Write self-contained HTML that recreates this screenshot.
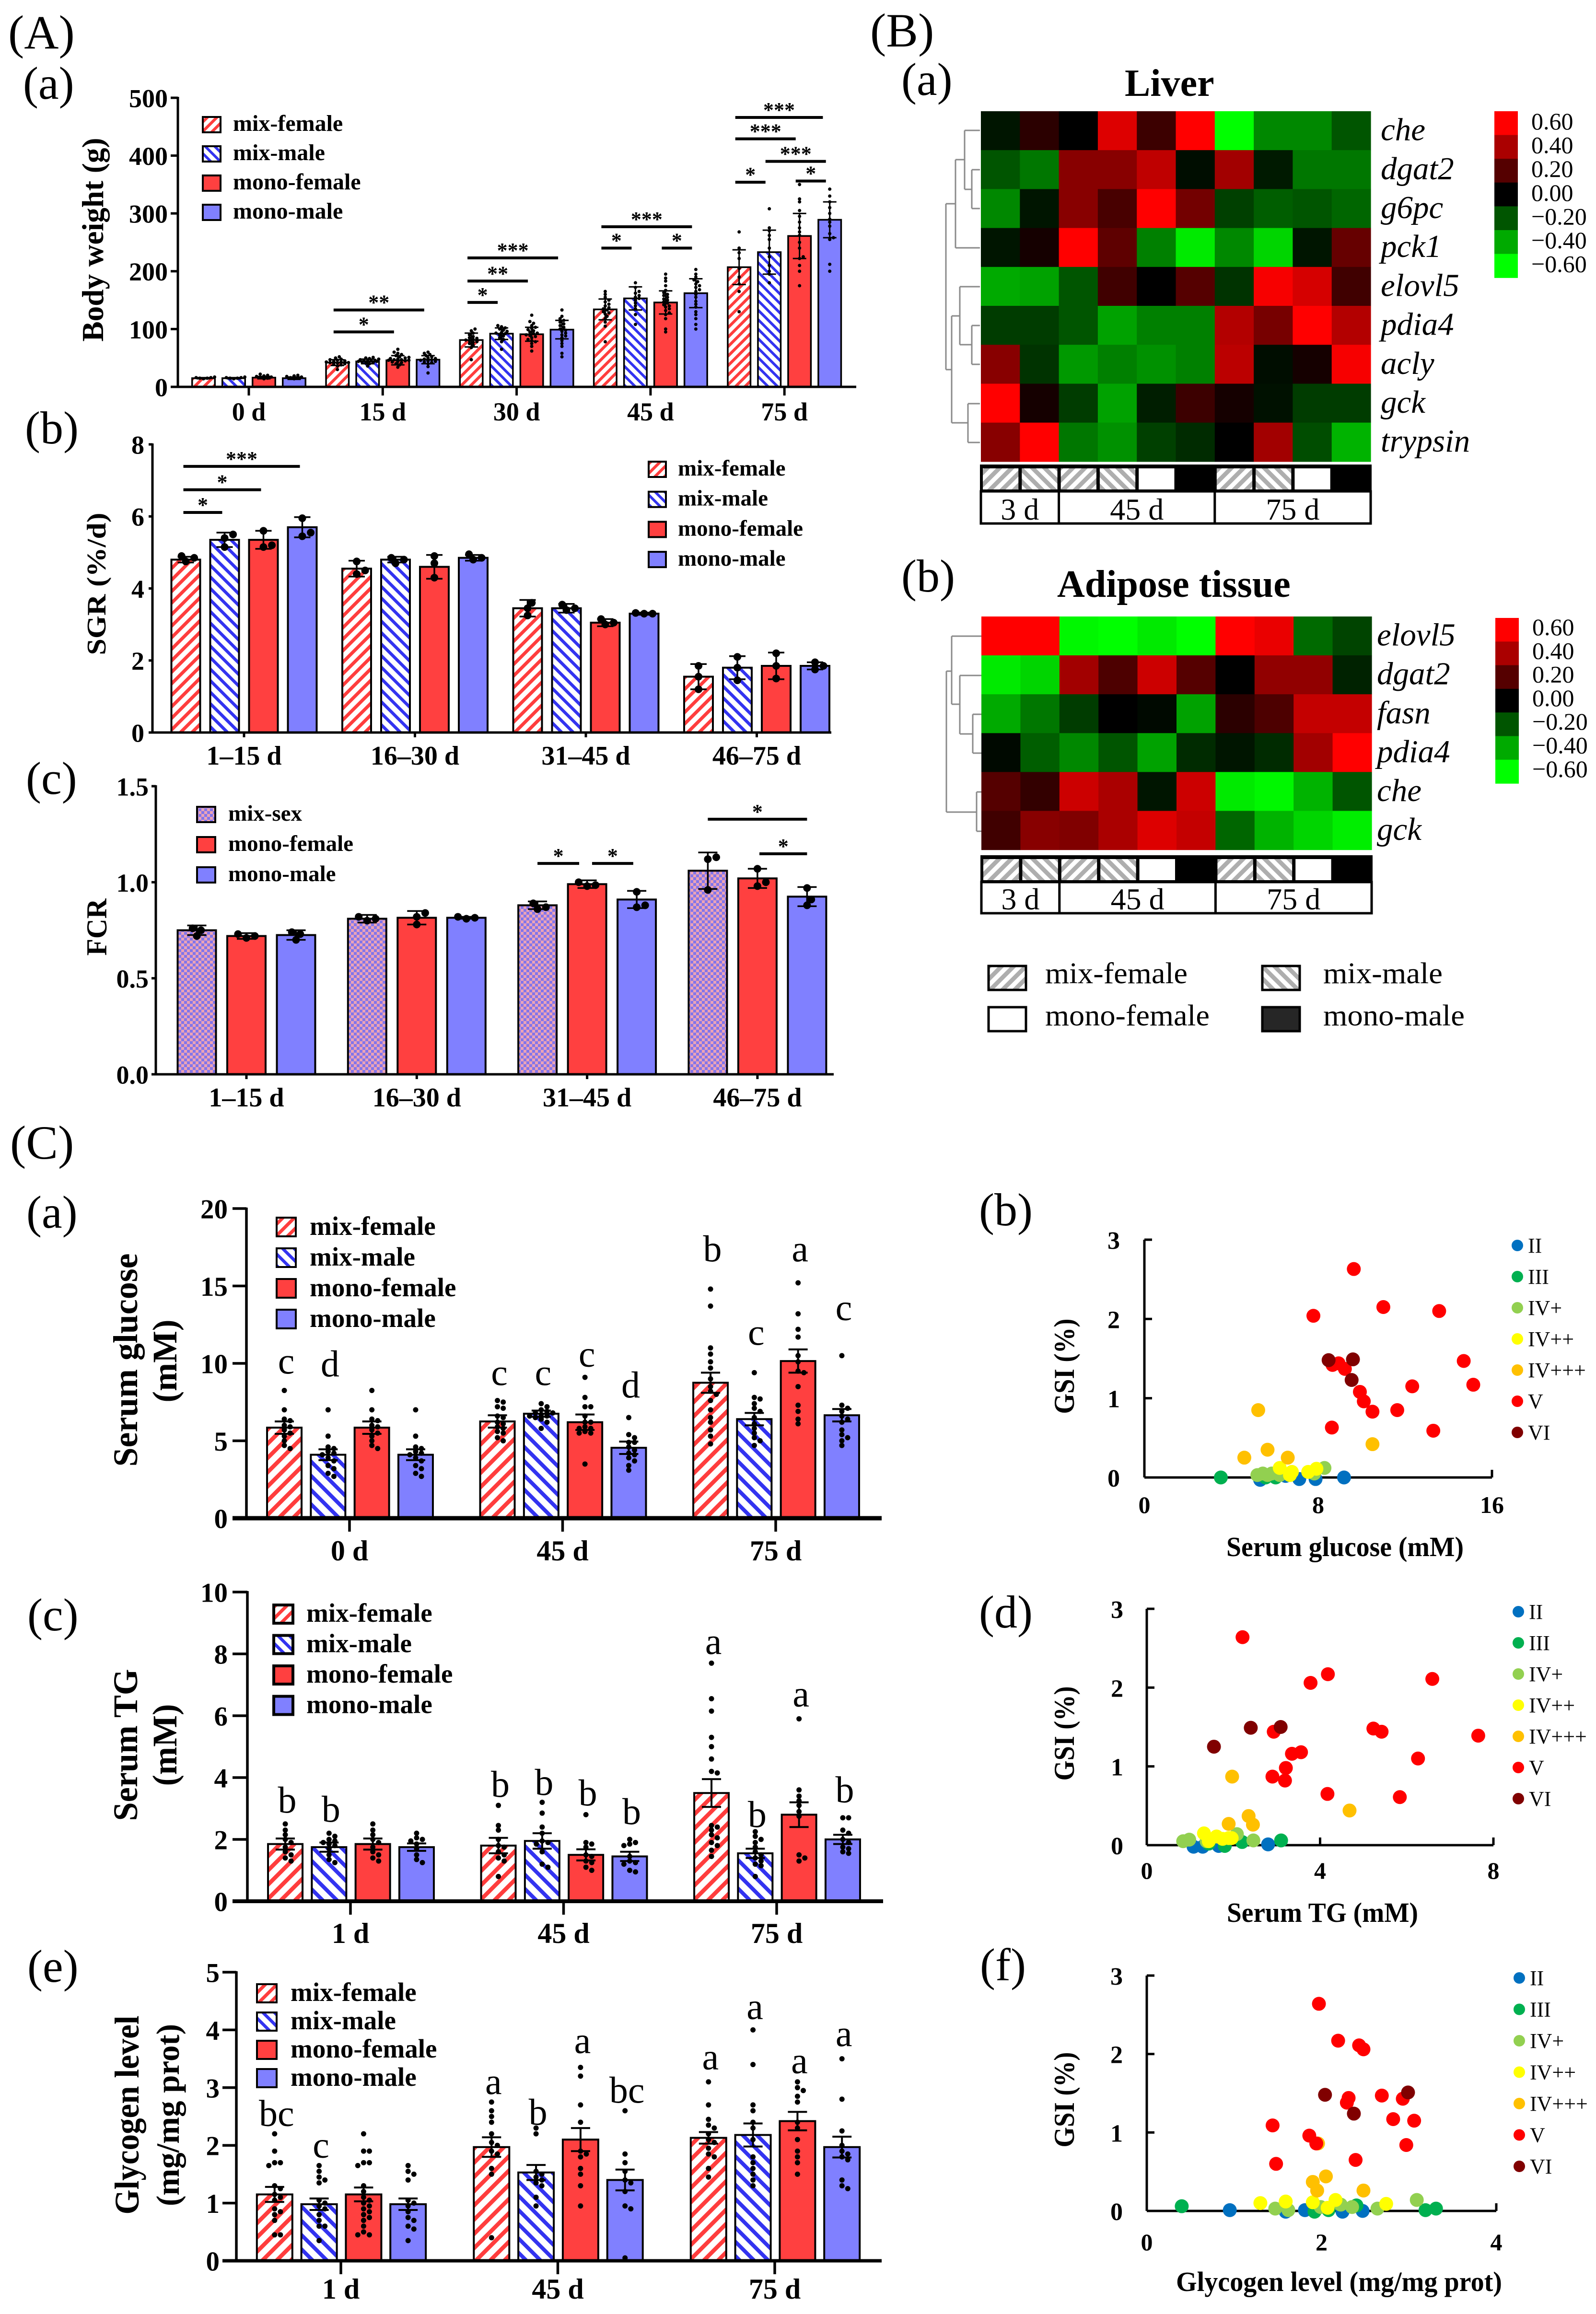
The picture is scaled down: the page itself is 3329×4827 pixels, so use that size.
<!DOCTYPE html>
<html lang="en">
<head>
<meta charset="utf-8">
<title>Growth, gene expression and serum metabolite figure</title>
<style>
html,body{margin:0;padding:0;background:#fff}
svg{display:block;font-family:"Liberation Serif",serif;fill:#000}
</style>
</head>
<body>
<svg id="figure" xmlns="http://www.w3.org/2000/svg" width="3329" height="4827" viewBox="0 0 3329 4827">
<defs>
<pattern id="stripeRed" width="21" height="21" patternUnits="userSpaceOnUse" patternTransform="rotate(45)"><rect width="21" height="21" fill="#fff"/><rect width="8.5" height="21" fill="#ff3d3d"/></pattern>
<pattern id="stripeBlue" width="21" height="21" patternUnits="userSpaceOnUse" patternTransform="rotate(-45)"><rect width="21" height="21" fill="#fff"/><rect width="8" height="21" fill="#3333f0"/></pattern>
<pattern id="stripeRedM" width="17" height="17" patternUnits="userSpaceOnUse" patternTransform="rotate(45)"><rect width="17" height="17" fill="#fff"/><rect width="7" height="17" fill="#ff3d3d"/></pattern>
<pattern id="stripeBlueM" width="17" height="17" patternUnits="userSpaceOnUse" patternTransform="rotate(-45)"><rect width="17" height="17" fill="#fff"/><rect width="6.5" height="17" fill="#3333f0"/></pattern>
<pattern id="stripeRedS" width="14" height="14" patternUnits="userSpaceOnUse" patternTransform="rotate(45)"><rect width="14" height="14" fill="#fff"/><rect width="6" height="14" fill="#ff3d3d"/></pattern>
<pattern id="stripeBlueS" width="14" height="14" patternUnits="userSpaceOnUse" patternTransform="rotate(-45)"><rect width="14" height="14" fill="#fff"/><rect width="5.5" height="14" fill="#3333f0"/></pattern>
<pattern id="checker" width="12" height="12" patternUnits="userSpaceOnUse"><rect width="12" height="12" fill="#eba3b6"/><rect width="6" height="6" fill="#8375ea"/><rect x="6" y="6" width="6" height="6" fill="#8375ea"/></pattern>
<pattern id="hatchF" width="18" height="18" patternUnits="userSpaceOnUse" patternTransform="rotate(45)"><rect width="18" height="18" fill="#fff"/><rect width="9" height="18" fill="#aeaeae"/></pattern>
<pattern id="hatchM" width="18" height="18" patternUnits="userSpaceOnUse" patternTransform="rotate(-45)"><rect width="18" height="18" fill="#fff"/><rect width="9" height="18" fill="#aeaeae"/></pattern>
</defs>
<rect width="3329" height="4827" fill="#fff"/>

<g font-size="100">
<text x="17" y="101">(A)</text>
<text x="48" y="206" font-size="96">(a)</text>
<text x="52" y="925" font-size="96">(b)</text>
<text x="54" y="1656" font-size="96">(c)</text>
<text x="1815" y="97">(B)</text>
<text x="1880" y="198" font-size="96">(a)</text>
<text x="1880" y="1234" font-size="96">(b)</text>
<text x="21" y="2417">(C)</text>
<text x="55" y="2561" font-size="96">(a)</text>
<text x="57" y="3401" font-size="96">(c)</text>
<text x="57" y="4134" font-size="96">(e)</text>
<text x="2042" y="2556" font-size="96">(b)</text>
<text x="2042" y="3395" font-size="96">(d)</text>
<text x="2044" y="4131" font-size="96">(f)</text>
</g>

<g id="chartBW">
<text transform="translate(215,500) rotate(-90)" font-size="64" font-weight="bold" text-anchor="middle" textLength="425" lengthAdjust="spacingAndGlyphs">Body weight  (g)</text>
</g>
<g id="chartSGR">
<text transform="translate(220,1218) rotate(-90)" font-size="56" font-weight="bold" text-anchor="middle" textLength="297" lengthAdjust="spacingAndGlyphs">SGR (%/d)</text>
</g>
<g id="chartFCR">
<text transform="translate(222,1934) rotate(-90)" font-size="60" font-weight="bold" text-anchor="middle" textLength="119" lengthAdjust="spacingAndGlyphs">FCR</text>
</g>
<g id="heatLiver">
<text x="2346" y="200" font-size="80" font-weight="bold">Liver</text>
<path d="M2044 272H2012M2044 354H2027M2044 435H2027M2027 354V435M2027 395H2012M2012 272V395M2012 333H1993M2044 517H1993M1993 333V517M1993 425H1973M2044 598H2002M2044 679H2027M2044 760H2027M2027 679V760M2027 719H2002M2002 598V719M2002 659H1985M2044 842H2019M2044 923H2019M2019 842V923M2019 882H1985M1985 659V882M1985 771H1973M1973 425V771" fill="none" stroke="#8a8a8a" stroke-width="3"/>
</g>
<g id="heatAdipose">
<text x="2205" y="1245" font-size="80" font-weight="bold">Adipose tissue</text>
<path d="M2047 1327H1985M2047 1409H2002M2047 1490H2029M2047 1571H2029M2029 1490V1571M2029 1531H2002M2002 1409V1531M2002 1469H1985M1985 1327V1469M1985 1400H1974M2047 1652H2037M2047 1734H2037M2037 1652V1734M2037 1694H1974M1974 1400V1694" fill="none" stroke="#8a8a8a" stroke-width="3"/>
</g>
<g font-size="62">
<rect x="2062" y="2015" width="78" height="50" fill="url(#hatchF)" stroke="#000" stroke-width="5"/>
<text x="2180" y="2051" textLength="297" lengthAdjust="spacingAndGlyphs">mix-female</text>
<rect x="2633" y="2015" width="78" height="50" fill="url(#hatchM)" stroke="#000" stroke-width="5"/>
<text x="2760" y="2051" textLength="249" lengthAdjust="spacingAndGlyphs">mix-male</text>
<rect x="2062" y="2101" width="78" height="50" fill="#fff" stroke="#000" stroke-width="5"/>
<text x="2180" y="2139" textLength="343" lengthAdjust="spacingAndGlyphs">mono-female</text>
<rect x="2633" y="2101" width="78" height="50" fill="#262626" stroke="#000" stroke-width="5"/>
<text x="2760" y="2139" textLength="295" lengthAdjust="spacingAndGlyphs">mono-male</text>
</g>
<g id="chartGlucose">
<text transform="translate(286,2837) rotate(-90)" font-size="72" font-weight="bold" text-anchor="middle" textLength="445" lengthAdjust="spacingAndGlyphs">Serum  glucose</text>
<text transform="translate(368,2839) rotate(-90)" font-size="72" font-weight="bold" text-anchor="middle" textLength="173" lengthAdjust="spacingAndGlyphs">(mM)</text>
</g>
<g id="chartTG">
<text transform="translate(286,3640) rotate(-90)" font-size="72" font-weight="bold" text-anchor="middle" textLength="317" lengthAdjust="spacingAndGlyphs">Serum  TG</text>
<text transform="translate(368,3640) rotate(-90)" font-size="72" font-weight="bold" text-anchor="middle" textLength="171" lengthAdjust="spacingAndGlyphs">(mM)</text>
</g>
<g id="chartGlycogen">
<text transform="translate(289,4412) rotate(-90)" font-size="72" font-weight="bold" text-anchor="middle" textLength="415" lengthAdjust="spacingAndGlyphs">Glycogen level</text>
<text transform="translate(373,4412) rotate(-90)" font-size="68" font-weight="bold" text-anchor="middle" textLength="380" lengthAdjust="spacingAndGlyphs">(mg/mg prot)</text>
</g>
<g id="scatterGlucose">
<text transform="translate(2240,2850) rotate(-90)" font-size="60" font-weight="bold" text-anchor="middle" textLength="199" lengthAdjust="spacingAndGlyphs">GSI (%)</text>
<text x="2558" y="3246" font-size="58" font-weight="bold" textLength="495" lengthAdjust="spacingAndGlyphs">Serum glucose (mM)</text>
</g>
<g id="scatterTG">
<text transform="translate(2240,3616) rotate(-90)" font-size="60" font-weight="bold" text-anchor="middle" textLength="197" lengthAdjust="spacingAndGlyphs">GSI (%)</text>
<text x="2559" y="4009" font-size="58" font-weight="bold" textLength="399" lengthAdjust="spacingAndGlyphs">Serum TG (mM)</text>
</g>
<g id="scatterGlycogen">
<text transform="translate(2240,4380) rotate(-90)" font-size="60" font-weight="bold" text-anchor="middle" textLength="199" lengthAdjust="spacingAndGlyphs">GSI (%)</text>
<text x="2453" y="4779" font-size="58" font-weight="bold" textLength="680" lengthAdjust="spacingAndGlyphs">Glycogen level (mg/mg prot)</text>
</g>
</svg>

<script>
const SVGNS = 'http://www.w3.org/2000/svg';
const RED = '#ff4040';
const BLUE = '#8080ff';
function make(tag, attrs, parent) {
  const el = document.createElementNS(SVGNS, tag);
  for (const k in attrs) el.setAttribute(k, attrs[k]);
  parent.appendChild(el);
  return el;
}
function addText(parent, str, x, y, size, name, o) {
  o = o || {};
  const el = make('text', {x: x, y: y, 'font-size': size, 'text-anchor': o.anchor || 'start', 'font-weight': o.weight || 'normal'}, parent);
  if (o.italic) el.setAttribute('font-style', 'italic');
  el.textContent = str;
  
  
  return el;
}
function addLine(parent, x1, y1, x2, y2, w, name) {
  const el = make('line', {x1: x1, y1: y1, x2: x2, y2: y2, stroke: '#000', 'stroke-width': w}, parent);
  
  
  return el;
}
function swarmOffsets(values, pxPerUnit, r, maxOff) {
  const placed = [];
  const minD = r * 1.7;
  const step = r * 1.1;
  return values.map(function (v) {
    const py = v * pxPerUnit;
    let best = 0, bestD = -1;
    for (let k = 0; k * step <= maxOff; k++) {
      const tries = k === 0 ? [0] : [k * step, -k * step];
      for (const off of tries) {
        let d = Infinity;
        for (const p of placed) d = Math.min(d, Math.hypot(p[0] - off, p[1] - py));
        if (d > bestD + 0.01) { bestD = d; best = off; }
        if (d >= minD) { k = 1e6; best = off; break; }
      }
    }
    placed.push([best, py]);
    return best;
  });
}
function drawBarChart(c) {
  const host = document.getElementById(c.host);
  const yPx = function (v) { return c.y0 - v * (c.y0 - c.yTop) / c.vMax; };
  const xTick = function (g) { return c.xFirst + g * c.xStep; };
  const n = c.series.length;
  const barX = function (g, s) { return xTick(g) + c.barShift + (s - (n - 1) / 2) * c.barStep; };
  const pxPerUnit = (c.y0 - c.yTop) / c.vMax;
  c.series.forEach(function (s, si) {
    s.means.forEach(function (m, g) {
      const bar = make('rect', {x: barX(g, si) - c.barW / 2 + c.barStroke / 2, y: yPx(m), width: c.barW - c.barStroke, height: c.y0 - yPx(m), fill: s.fill, stroke: '#000', 'stroke-width': c.barStroke}, host);
      
      
      const cx = barX(g, si);
      const e = s.errs[g];
      addLine(host, cx, yPx(m + e), cx, yPx(m - e), c.errW, 'error-bar');
      addLine(host, cx - c.cap, yPx(m + e), cx + c.cap, yPx(m + e), c.errW, 'error-cap');
      addLine(host, cx - c.cap, yPx(m - e), cx + c.cap, yPx(m - e), c.errW, 'error-cap');
      const vals = s.dots[g];
      const offs = swarmOffsets(vals, pxPerUnit, c.dotR, c.barW * 0.46);
      vals.forEach(function (v, i) {
        const dot = make('circle', {cx: cx + offs[i], cy: yPx(v), r: c.dotR, fill: '#000'}, host);
        
        
      });
    });
  });
  addLine(host, c.axisX, c.yTop - 2, c.axisX, c.y0, c.axisW, 'y-axis');
  addLine(host, c.axisLeft, c.y0, c.axisRight, c.y0, c.xAxisW, 'x-axis');
  c.yTicks.forEach(function (v, i) {
    addLine(host, c.axisLeft, yPx(v), c.axisX, yPx(v), c.axisW, 'y-tick');
    addText(host, c.yLabels[i], c.labelRight, yPx(v) + c.tickFont * 0.36, c.tickFont, 'y-tick-label', {anchor: 'end', weight: 'bold'});
  });
  c.categories.forEach(function (cat, g) {
    addLine(host, xTick(g), c.y0, xTick(g), c.y0 + c.tickLen, c.axisW, 'x-tick');
    addText(host, cat, xTick(g), c.catBaseline, c.catFont, 'x-tick-label', {anchor: 'middle', weight: 'bold'});
  });
  (c.sig || []).forEach(function (b) {
    const x1 = barX(b[0], b[1]) + c.sigShift;
    const x2 = barX(b[0], b[2]) + c.sigShift;
    addLine(host, x1, yPx(b[3]), x2, yPx(b[3]), c.sigW, 'significance-bar');
    addText(host, b[4], (x1 + x2) / 2, yPx(b[3]) - 1, 44, 'significance-stars', {anchor: 'middle', weight: 'bold'});
  });
  (c.letters || []).forEach(function (l) {
    addText(host, l[3], barX(l[0], l[1]) + 4, yPx(l[2]), 78, 'significance-letter', {anchor: 'middle'});
  });
  c.legendTexts.forEach(function (t, i) {
    const y = c.legendY + i * c.legendStep;
    const sw = make('rect', {x: c.legendX, y: y, width: c.swatchW, height: c.swatchH, fill: c.legendFills[i], stroke: '#000', 'stroke-width': c.swatchStroke}, host);
    
    
    addText(host, t, c.legendTextX, y + c.swatchH - 3, c.legendFont, 'legend-label', {weight: 'bold'});
  });
}
function heatColor(v) {
  const a = Math.max(0, Math.min(255, Math.round(Math.abs(v) / 0.6 * 255)));
  return v >= 0 ? 'rgb(' + a + ',0,0)' : 'rgb(0,' + a + ',0)';
}
function drawHeatmap(c) {
  const host = document.getElementById(c.host);
  c.values.forEach(function (row, r) {
    row.forEach(function (v, i) {
      const cell = make('rect', {x: c.x + i * c.cellW, y: c.y + r * c.cellH, width: c.cellW + 0.6, height: c.cellH + 0.6, fill: heatColor(v)}, host);
      
      
    });
    addText(host, c.genes[r], c.geneX, c.y + (r + 0.5) * c.cellH + 20, 67, 'gene-label', {italic: true});
  });
  const w = c.cellW * c.values[0].length;
  const strip = make('rect', {x: c.x - 2, y: c.stripY, width: w + 4, height: c.stripH, fill: '#000'}, host);
  
  
  c.strip.forEach(function (k, i) {
    if (k === 'k') return;
    const cell = make('rect', {x: c.x + i * c.cellW + 4, y: c.stripY + 8, width: c.cellW - 7, height: c.stripH - 10, fill: k === 'f' ? 'url(#hatchF)' : k === 'm' ? 'url(#hatchM)' : '#fff'}, host);
    
    
  });
  const dayBox = make('rect', {x: c.x, y: c.stripY + c.stripH + 2, width: w, height: c.dayH, fill: '#fff', stroke: '#000', 'stroke-width': 5}, host);
  
  
  let col = 0;
  c.dayLabels.forEach(function (d, i) {
    const span = c.daySpans[i];
    addText(host, d, c.x + (col + span / 2) * c.cellW, c.stripY + c.stripH + c.dayH - 6, 64, 'day-label', {anchor: 'middle'});
    col += span;
    if (i < c.dayLabels.length - 1) addLine(host, c.x + col * c.cellW, c.stripY + c.stripH, c.x + col * c.cellW, c.stripY + c.stripH + c.dayH, 5, 'day-divider');
  });
  c.barValues.forEach(function (v, i) {
    const seg = make('rect', {x: c.barX, y: c.barY + i * c.barH, width: 49, height: c.barH + 0.6, fill: heatColor(v)}, host);
    
    
    addText(host, c.barLabels[i], c.barX + 77, c.barLabelY + i * c.barH, 50, 'colorbar-label');
  });
}
function drawScatter(c) {
  const host = document.getElementById(c.host);
  const xPx = function (v) { return c.x0 + v * (c.x1 - c.x0) / c.xMax; };
  const yPx = function (v) { return c.y0 - v * (c.y0 - c.yTop) / c.yMax; };
  addLine(host, c.x0, c.yTop, c.x0, c.y0, 5, 'y-axis');
  addLine(host, c.x0, c.y0, c.x1, c.y0, 5, 'x-axis');
  c.yTicks.forEach(function (v, i) {
    addLine(host, c.x0, yPx(v), c.x0 + 16, yPx(v), 5, 'y-tick');
    addText(host, c.yLabels[i], c.yLabelRight, yPx(v) + 19, 52, 'y-tick-label', {anchor: 'end', weight: 'bold'});
  });
  c.xTicks.forEach(function (v, i) {
    if (v > 0) addLine(host, xPx(v), c.y0 - 16, xPx(v), c.y0, 5, 'x-tick');
    addText(host, c.xLabels[i], xPx(v), c.xLabelY, 50, 'x-tick-label', {anchor: 'middle', weight: 'bold'});
  });
  c.series.forEach(function (points, si) {
    points.forEach(function (p) {
      const dot = make('circle', {cx: xPx(p[0]), cy: yPx(p[1]), r: 14.5, fill: c.colors[si]}, host);
      
      
    });
    const ly = c.legendY + si * c.legendStep;
    const key = make('circle', {cx: c.legendX, cy: ly, r: 12, fill: c.colors[si]}, host);
    
    
    addText(host, c.stages[si], c.legendX + 22, ly + 15, 44, 'legend-label');
  });
}
const STAGE_COLORS = ['#0070c0', '#00b050', '#92d050', '#ffff00', '#ffc000', '#ff0000', '#800000'];
</script>

<script>
/* Body weight */
const bwCategories = ['0 d', '15 d', '30 d', '45 d', '75 d'];
const bwTicks = [0, 100, 200, 300, 400, 500];
const bwTickLabels = ['0', '100', '200', '300', '400', '500'];
const bwMixFemale = [15, 42, 81, 134, 207];
const bwMixMale = [15, 44, 92, 153, 233];
const bwMonoFemale = [16, 46, 91, 146, 261];
const bwMonoMale = [15, 47, 99, 162, 289];
const bwSdMixFemale = [1, 5, 12, 18, 30];
const bwSdMixMale = [1, 4, 10, 20, 38];
const bwSdMonoFemale = [2, 8, 12, 20, 39];
const bwSdMonoMale = [2, 7, 16, 25, 31];
const bwDotsMixFemale = [
  [14, 15, 15, 16, 16, 17],
  [30, 36, 38, 39, 40, 41, 42, 42, 43, 43, 44, 45, 46, 47, 48, 50, 52],
  [47, 68, 72, 75, 77, 78, 80, 81, 82, 84, 85, 87, 90, 93, 97, 100],
  [78, 105, 112, 118, 122, 126, 128, 130, 133, 135, 137, 140, 143, 147, 150, 155, 160, 165],
  [130, 165, 178, 190, 205, 222, 232, 240, 268]
];
const bwDotsMixMale = [
  [14, 15, 15, 16, 16, 17],
  [36, 40, 41, 42, 43, 44, 44, 45, 45, 46, 46, 47, 48, 49, 50, 51],
  [65, 78, 82, 85, 88, 90, 92, 93, 94, 96, 98, 100, 102, 104, 106],
  [108, 125, 135, 140, 145, 150, 153, 155, 158, 162, 165, 172, 180],
  [180, 195, 200, 210, 225, 240, 255, 262, 270, 275, 308]
];
const bwDotsMonoFemale = [
  [14, 15, 16, 17, 18, 19, 20, 22],
  [34, 38, 40, 42, 43, 44, 45, 46, 46, 47, 47, 48, 49, 50, 51, 52, 54, 56, 58, 60, 65],
  [62, 70, 75, 78, 80, 82, 85, 87, 89, 90, 92, 93, 95, 97, 99, 101, 103, 106, 110, 113, 124],
  [95, 100, 118, 125, 128, 132, 135, 138, 140, 142, 145, 147, 150, 152, 155, 158, 160, 163, 167, 175, 183, 188, 195],
  [175, 200, 210, 222, 225, 240, 250, 262, 268, 275, 285, 295, 305, 320, 325, 350]
];
const bwDotsMonoMale = [
  [14, 15, 16, 17, 18, 19, 20],
  [24, 35, 40, 42, 43, 44, 45, 46, 47, 48, 49, 50, 52, 54, 56, 58, 60],
  [52, 58, 70, 75, 80, 85, 88, 90, 93, 96, 98, 100, 103, 106, 109, 112, 115, 118, 122, 133],
  [100, 108, 118, 125, 130, 138, 143, 148, 155, 160, 165, 168, 172, 175, 178, 182, 185, 190, 195, 203],
  [200, 212, 255, 258, 265, 278, 285, 290, 300, 310, 320, 330, 342]
];
const bwSignificance = [
  [1, 0, 3, 133, '**'], [1, 0, 2, 95, '*'],
  [2, 0, 1, 146, '*'], [2, 0, 2, 183, '**'], [2, 0, 3, 223, '***'],
  [3, 0, 1, 240, '*'], [3, 2, 3, 240, '*'], [3, 0, 3, 277, '***'],
  [4, 0, 1, 354, '*'], [4, 2, 3, 356, '*'], [4, 1, 3, 390, '***'], [4, 0, 2, 429, '***'], [4, 0, 2.9, 466, '***']
];
drawBarChart({
  host: 'chartBW', categories: bwCategories, yTicks: bwTicks, yLabels: bwTickLabels, vMax: 500,
  y0: 807, yTop: 204, axisX: 371, axisLeft: 356, axisRight: 1786, axisW: 5, xAxisW: 5,
  xFirst: 519, xStep: 279.3, barStep: 63, barW: 51, barShift: 0, barStroke: 3.5, tickLen: 18,
  tickFont: 54, labelRight: 350, catBaseline: 877, catFont: 54,
  errW: 3, cap: 14, dotR: 3.5, sigShift: -8, sigW: 6,
  series: [
    {slug: 'mix-female', fill: 'url(#stripeRedS)', means: bwMixFemale, errs: bwSdMixFemale, dots: bwDotsMixFemale},
    {slug: 'mix-male', fill: 'url(#stripeBlueS)', means: bwMixMale, errs: bwSdMixMale, dots: bwDotsMixMale},
    {slug: 'mono-female', fill: RED, means: bwMonoFemale, errs: bwSdMonoFemale, dots: bwDotsMonoFemale},
    {slug: 'mono-male', fill: BLUE, means: bwMonoMale, errs: bwSdMonoMale, dots: bwDotsMonoMale}
  ],
  sig: bwSignificance,
  legendTexts: ['mix-female', 'mix-male', 'mono-female', 'mono-male'],
  legendFills: ['url(#stripeRedS)', 'url(#stripeBlueS)', RED, BLUE],
  legendX: 423, legendY: 244, legendStep: 61, swatchW: 37, swatchH: 32, swatchStroke: 4, legendTextX: 486, legendFont: 48
});
</script>

<script>
/* SGR */
const sgrCategories = ['1–15 d', '16–30 d', '31–45 d', '46–75 d'];
const sgrTicks = [0, 2, 4, 6, 8];
const sgrTickLabels = ['0', '2', '4', '6', '8'];
const sgrMixFemale = [4.8, 4.55, 3.45, 1.55];
const sgrMixMale = [5.35, 4.8, 3.45, 1.8];
const sgrMonoFemale = [5.35, 4.6, 3.05, 1.85];
const sgrMonoMale = [5.7, 4.85, 3.3, 1.85];
const sgrErrMixFemale = [0.08, 0.22, 0.23, 0.35];
const sgrErrMixMale = [0.2, 0.08, 0.12, 0.32];
const sgrErrMonoFemale = [0.25, 0.33, 0.1, 0.37];
const sgrErrMonoMale = [0.28, 0.08, 0.03, 0.1];
const sgrDotsMixFemale = [[4.75, 4.85, 4.9], [4.4, 4.5, 4.75], [3.25, 3.45, 3.6], [1.2, 1.55, 1.85]];
const sgrDotsMixMale = [[5.15, 5.4, 5.5], [4.7, 4.8, 4.85], [3.4, 3.45, 3.55], [1.45, 1.8, 2.1]];
const sgrDotsMonoFemale = [[5.15, 5.2, 5.6], [4.3, 4.7, 4.9], [3.0, 3.05, 3.15], [1.5, 1.85, 2.2]];
const sgrDotsMonoMale = [[5.45, 5.55, 5.95], [4.8, 4.85, 4.95], [3.3, 3.3, 3.32], [1.75, 1.85, 1.95]];
const sgrSignificance = [[0, 0, 1, 6.11, '*'], [0, 0, 2, 6.74, '*'], [0, 0, 3, 7.39, '***']];
drawBarChart({
  host: 'chartSGR', categories: sgrCategories, yTicks: sgrTicks, yLabels: sgrTickLabels, vMax: 8,
  y0: 1528, yTop: 927, axisX: 318, axisLeft: 310, axisRight: 1734, axisW: 5, xAxisW: 5,
  xFirst: 509, xStep: 356.5, barStep: 81, barW: 64, barShift: 0, barStroke: 4, tickLen: 10,
  tickFont: 54, labelRight: 301, catBaseline: 1595, catFont: 56,
  errW: 3.5, cap: 17, dotR: 8, sigShift: -5, sigW: 6,
  series: [
    {slug: 'mix-female', fill: 'url(#stripeRedM)', means: sgrMixFemale, errs: sgrErrMixFemale, dots: sgrDotsMixFemale},
    {slug: 'mix-male', fill: 'url(#stripeBlueM)', means: sgrMixMale, errs: sgrErrMixMale, dots: sgrDotsMixMale},
    {slug: 'mono-female', fill: RED, means: sgrMonoFemale, errs: sgrErrMonoFemale, dots: sgrDotsMonoFemale},
    {slug: 'mono-male', fill: BLUE, means: sgrMonoMale, errs: sgrErrMonoMale, dots: sgrDotsMonoMale}
  ],
  sig: sgrSignificance,
  legendTexts: ['mix-female', 'mix-male', 'mono-female', 'mono-male'],
  legendFills: ['url(#stripeRedS)', 'url(#stripeBlueS)', RED, BLUE],
  legendX: 1353, legendY: 963, legendStep: 62.7, swatchW: 36, swatchH: 32, swatchStroke: 4, legendTextX: 1414, legendFont: 47
});
</script>

<script>
/* FCR */
const fcrCategories = ['1–15 d', '16–30 d', '31–45 d', '46–75 d'];
const fcrTicks = [0, 0.5, 1, 1.5];
const fcrTickLabels = ['0.0', '0.5', '1.0', '1.5'];
const fcrMixSex = [0.75, 0.81, 0.88, 1.06];
const fcrMonoFemale = [0.72, 0.815, 0.99, 1.02];
const fcrMonoMale = [0.725, 0.815, 0.91, 0.925];
const fcrErrMixSex = [0.025, 0.02, 0.02, 0.095];
const fcrErrMonoFemale = [0.015, 0.035, 0.02, 0.05];
const fcrErrMonoMale = [0.025, 0.005, 0.045, 0.05];
const fcrDotsMixSex = [[0.72, 0.75, 0.76], [0.8, 0.81, 0.82], [0.86, 0.87, 0.89], [0.96, 1.12, 1.13]];
const fcrDotsMonoFemale = [[0.71, 0.72, 0.73], [0.78, 0.82, 0.84], [0.98, 0.985, 1.0], [0.98, 1.0, 1.07]];
const fcrDotsMonoMale = [[0.7, 0.73, 0.74], [0.81, 0.815, 0.82], [0.87, 0.88, 0.95], [0.88, 0.91, 0.97]];
const fcrSignificance = [[2, 0, 0.84, 1.098, '*'], [2, 1.1, 1.93, 1.098, '*'], [3, 1.04, 2, 1.148, '*'], [3, 0, 2, 1.328, '*']];
drawBarChart({
  host: 'chartFCR', categories: fcrCategories, yTicks: fcrTicks, yLabels: fcrTickLabels, vMax: 1.5,
  y0: 2241, yTop: 1640, axisX: 325, axisLeft: 316, axisRight: 1739, axisW: 5, xAxisW: 5,
  xFirst: 514, xStep: 355.3, barStep: 103.5, barW: 84, barShift: 0, barStroke: 4, tickLen: 10,
  tickFont: 54, labelRight: 310, catBaseline: 2308, catFont: 56,
  errW: 3.5, cap: 20, dotR: 8, sigShift: 0, sigW: 6,
  series: [
    {slug: 'mix-sex', fill: 'url(#checker)', means: fcrMixSex, errs: fcrErrMixSex, dots: fcrDotsMixSex},
    {slug: 'mono-female', fill: RED, means: fcrMonoFemale, errs: fcrErrMonoFemale, dots: fcrDotsMonoFemale},
    {slug: 'mono-male', fill: BLUE, means: fcrMonoMale, errs: fcrErrMonoMale, dots: fcrDotsMonoMale}
  ],
  sig: fcrSignificance,
  legendTexts: ['mix-sex', 'mono-female', 'mono-male'],
  legendFills: ['url(#checker)', RED, BLUE],
  legendX: 411, legendY: 1683, legendStep: 63, swatchW: 38, swatchH: 32, swatchStroke: 4, legendTextX: 476, legendFont: 47
});
</script>

<script>
/* Liver heatmap */
const liverGenes = ['che', 'dgat2', 'g6pc', 'pck1', 'elovl5', 'pdia4', 'acly', 'gck', 'trypsin'];
const liverValues = [
  [-0.05, 0.1, 0, 0.52, 0.14, 0.6, -0.6, -0.32, -0.32, -0.2],
  [-0.2, -0.28, 0.32, 0.32, 0.45, -0.03, 0.38, -0.06, -0.28, -0.28],
  [-0.32, -0.05, 0.32, 0.17, 0.6, 0.27, -0.15, -0.22, -0.2, -0.24],
  [-0.05, 0.05, 0.6, 0.22, -0.3, -0.55, -0.32, -0.5, -0.05, 0.24],
  [-0.4, -0.38, -0.2, 0.15, 0, 0.2, -0.12, 0.58, 0.5, 0.15],
  [-0.14, -0.14, -0.2, -0.38, -0.3, -0.3, 0.42, 0.28, 0.6, 0.42],
  [0.32, -0.12, -0.36, -0.3, -0.34, -0.3, 0.44, -0.03, 0.05, 0.58],
  [0.6, 0.05, -0.14, -0.38, -0.07, 0.14, 0.05, -0.04, -0.14, -0.14],
  [0.32, 0.6, -0.28, -0.34, -0.15, -0.1, 0, 0.38, -0.18, -0.42]
];
const liverStrip = ['f', 'm', 'f', 'm', 'w', 'k', 'f', 'm', 'w', 'k'];
const liverDays = ['3 d', '45 d', '75 d'];
const liverDaySpans = [2, 4, 4];
const liverScaleValues = [0.6, 0.4, 0.2, 0, -0.2, -0.4, -0.6];
const liverScaleLabels = ['0.60', '0.40', '0.20', '0.00', '−0.20', '−0.40', '−0.60'];
drawHeatmap({
  host: 'heatLiver', genes: liverGenes, values: liverValues, strip: liverStrip,
  dayLabels: liverDays, daySpans: liverDaySpans, barValues: liverScaleValues, barLabels: liverScaleLabels,
  x: 2046, y: 232, cellW: 81.3, cellH: 81.2, geneX: 2880,
  stripY: 969, stripH: 54, dayH: 67, barX: 3117, barY: 232, barH: 49.6, barLabelY: 270
});
</script>

<script>
/* Adipose heatmap */
const adiposeGenes = ['elovl5', 'dgat2', 'fasn', 'pdia4', 'che', 'gck'];
const adiposeValues = [
  [0.6, 0.6, -0.58, -0.6, -0.55, -0.6, 0.6, 0.55, -0.25, -0.16],
  [-0.55, -0.5, 0.38, 0.18, 0.48, 0.2, 0, 0.34, 0.34, -0.08],
  [-0.4, -0.28, -0.14, 0, -0.02, -0.38, 0.1, 0.18, 0.46, 0.46],
  [-0.02, -0.22, -0.32, -0.2, -0.38, -0.1, -0.05, -0.1, 0.38, 0.6],
  [0.2, 0.12, 0.48, 0.4, -0.05, 0.48, -0.55, -0.58, -0.42, -0.2],
  [0.15, 0.32, 0.3, 0.4, 0.52, 0.46, -0.24, -0.42, -0.5, -0.56]
];
const adiposeStrip = ['f', 'm', 'f', 'm', 'w', 'k', 'f', 'm', 'w', 'k'];
const adiposeDays = ['3 d', '45 d', '75 d'];
const adiposeDaySpans = [2, 4, 4];
const adiposeScaleValues = [0.6, 0.4, 0.2, 0, -0.2, -0.4, -0.6];
const adiposeScaleLabels = ['0.60', '0.40', '0.20', '0.00', '−0.20', '−0.40', '−0.60'];
drawHeatmap({
  host: 'heatAdipose', genes: adiposeGenes, values: adiposeValues, strip: adiposeStrip,
  dayLabels: adiposeDays, daySpans: adiposeDaySpans, barValues: adiposeScaleValues, barLabels: adiposeScaleLabels,
  x: 2047, y: 1286, cellW: 81.4, cellH: 81.1, geneX: 2872,
  stripY: 1784, stripH: 54, dayH: 65, barX: 3119, barY: 1289, barH: 49.3, barLabelY: 1325
});
</script>

<script>
/* Serum glucose */
const gluCategories = ['0 d', '45 d', '75 d'];
const gluTicks = [0, 5, 10, 15, 20];
const gluTickLabels = ['0', '5', '10', '15', '20'];
const gluMixFemale = [5.85, 6.25, 8.75];
const gluMixMale = [4.1, 6.75, 6.4];
const gluMonoFemale = [5.85, 6.2, 10.15];
const gluMonoMale = [4.1, 4.55, 6.65];
const gluSemMixFemale = [0.4, 0.4, 0.65];
const gluSemMixMale = [0.35, 0.2, 0.4];
const gluSemMonoFemale = [0.4, 0.5, 0.75];
const gluSemMonoMale = [0.35, 0.4, 0.4];
const gluDotsMixFemale = [
  [8.25, 7.0, 6.4, 6.3, 6.0, 5.9, 5.7, 5.5, 5.3, 5.0, 4.7, 4.5],
  [7.6, 7.5, 7.2, 7.1, 6.6, 6.5, 6.2, 6.1, 5.9, 5.8, 5.6, 5.5, 5.2, 5.0],
  [14.8, 13.7, 11.0, 10.6, 10.1, 9.7, 9.0, 8.5, 8.2, 8.0, 7.6, 7.0, 6.5, 6.2, 5.7, 5.3, 4.8]
];
const gluDotsMixMale = [
  [7.0, 5.3, 4.6, 4.5, 4.3, 4.2, 4.1, 3.9, 3.7, 3.4, 3.2, 2.9, 2.7],
  [7.4, 7.2, 7.0, 6.9, 6.8, 6.8, 6.7, 6.6, 6.6, 6.5, 6.4, 6.2, 5.8],
  [9.4, 7.8, 7.7, 7.4, 7.1, 6.9, 6.5, 6.1, 5.8, 5.5, 5.2, 5.0, 4.7]
];
const gluDotsMonoFemale = [
  [8.25, 7.0, 6.4, 6.3, 6.0, 5.9, 5.7, 5.5, 5.3, 5.0, 4.7, 4.5],
  [9.1, 7.8, 7.2, 7.2, 6.6, 6.2, 6.2, 5.9, 5.8, 5.8, 5.6, 5.5, 5.5, 3.5],
  [15.2, 13.2, 12.2, 11.7, 10.5, 10.1, 9.5, 9.4, 8.5, 7.3, 6.9, 6.4, 6.1]
];
const gluDotsMonoMale = [
  [7.0, 5.3, 4.6, 4.5, 4.3, 4.2, 4.1, 3.9, 3.7, 3.4, 3.2, 2.9, 2.7],
  [6.5, 5.4, 5.2, 4.9, 4.9, 4.6, 4.4, 4.2, 4.1, 3.9, 3.7, 3.4, 3.1],
  [10.5, 7.3, 7.1, 6.9, 6.6, 6.4, 6.2, 5.7, 5.4, 5.2, 5.0, 4.7]
];
const gluLetters = [
  [0, 0, 9.35, 'c'], [0, 1, 9.16, 'd'],
  [1, 0, 8.6, 'c'], [1, 1, 8.6, 'c'], [1, 2, 9.8, 'c'], [1, 3, 7.8, 'd'],
  [2, 0, 16.6, 'b'], [2, 1, 11.2, 'c'], [2, 2, 16.6, 'a'], [2, 3, 12.8, 'c']
];
drawBarChart({
  host: 'chartGlucose', categories: gluCategories, yTicks: gluTicks, yLabels: gluTickLabels, vMax: 20,
  y0: 3167, yTop: 2521, axisX: 514, axisLeft: 485, axisRight: 1839, axisW: 5.5, xAxisW: 9,
  xFirst: 729, xStep: 444.5, barStep: 91.3, barW: 76, barShift: 1, barStroke: 4, tickLen: 28,
  tickFont: 57, labelRight: 475, catBaseline: 3255, catFont: 60,
  errW: 4, cap: 20, dotR: 5.5,
  series: [
    {slug: 'mix-female', fill: 'url(#stripeRed)', means: gluMixFemale, errs: gluSemMixFemale, dots: gluDotsMixFemale},
    {slug: 'mix-male', fill: 'url(#stripeBlue)', means: gluMixMale, errs: gluSemMixMale, dots: gluDotsMixMale},
    {slug: 'mono-female', fill: RED, means: gluMonoFemale, errs: gluSemMonoFemale, dots: gluDotsMonoFemale},
    {slug: 'mono-male', fill: BLUE, means: gluMonoMale, errs: gluSemMonoMale, dots: gluDotsMonoMale}
  ],
  letters: gluLetters,
  legendTexts: ['mix-female', 'mix-male', 'mono-female', 'mono-male'],
  legendFills: ['url(#stripeRedM)', 'url(#stripeBlueM)', RED, BLUE],
  legendX: 577, legendY: 2540, legendStep: 64, swatchW: 40, swatchH: 39, swatchStroke: 4, legendTextX: 646, legendFont: 55
});
</script>

<script>
/* Serum TG */
const tgCategories = ['1 d', '45 d', '75 d'];
const tgTicks = [0, 2, 4, 6, 8, 10];
const tgTickLabels = ['0', '2', '4', '6', '8', '10'];
const tgMixFemale = [1.85, 1.8, 3.5];
const tgMixMale = [1.75, 1.95, 1.55];
const tgMonoFemale = [1.85, 1.5, 2.8];
const tgMonoMale = [1.75, 1.45, 2.0];
const tgSemMixFemale = [0.18, 0.25, 0.45];
const tgSemMixMale = [0.15, 0.25, 0.15];
const tgSemMonoFemale = [0.18, 0.18, 0.4];
const tgSemMonoMale = [0.12, 0.15, 0.15];
const tgDotsMixFemale = [
  [2.5, 2.3, 2.15, 2.0, 1.9, 1.75, 1.6, 1.5, 1.4, 1.3],
  [3.1, 2.45, 2.3, 2.0, 1.8, 1.75, 1.6, 1.5, 1.4, 1.3, 0.8],
  [7.7, 6.55, 6.15, 5.3, 5.0, 4.6, 4.2, 4.15, 2.45, 2.4, 2.3, 2.15, 2.05, 1.9, 1.8, 1.65, 1.45]
];
const tgDotsMixMale = [
  [2.2, 2.1, 2.0, 1.95, 1.9, 1.85, 1.8, 1.7, 1.5, 1.35, 1.25],
  [3.2, 2.85, 2.4, 2.2, 1.95, 1.9, 1.85, 1.6, 1.2, 1.1],
  [2.25, 2.1, 2.0, 1.9, 1.75, 1.6, 1.5, 1.4, 1.3, 1.2, 1.15, 0.8]
];
const tgDotsMonoFemale = [
  [2.5, 2.3, 2.15, 2.0, 1.9, 1.75, 1.6, 1.5, 1.4, 1.3],
  [2.8, 1.9, 1.85, 1.75, 1.5, 1.45, 1.3, 1.25, 1.1, 1.0],
  [5.9, 3.6, 3.4, 3.25, 3.1, 2.9, 2.75, 1.5, 1.4, 1.3]
];
const tgDotsMonoMale = [
  [2.2, 2.05, 2.0, 1.95, 1.85, 1.7, 1.5, 1.35, 1.25],
  [2.0, 1.9, 1.85, 1.8, 1.45, 1.3, 1.25, 1.2, 1.0, 0.95],
  [2.7, 2.7, 2.3, 2.2, 2.0, 1.9, 1.75, 1.7, 1.6, 1.55]
];
const tgLetters = [
  [0, 0, 2.87, 'b'], [0, 1, 2.57, 'b'],
  [1, 0, 3.38, 'b'], [1, 1, 3.44, 'b'], [1, 2, 3.1, 'b'], [1, 3, 2.5, 'b'],
  [2, 0, 8.0, 'a'], [2, 1, 2.4, 'b'], [2, 2, 6.3, 'a'], [2, 3, 3.2, 'b']
];
drawBarChart({
  host: 'chartTG', categories: tgCategories, yTicks: tgTicks, yLabels: tgTickLabels, vMax: 10,
  y0: 3966, yTop: 3321, axisX: 516, axisLeft: 485, axisRight: 1842, axisW: 5.5, xAxisW: 8,
  xFirst: 731, xStep: 444.5, barStep: 91.3, barW: 76, barShift: 1, barStroke: 4, tickLen: 28,
  tickFont: 57, labelRight: 475, catBaseline: 4053, catFont: 60,
  errW: 4, cap: 20, dotR: 5.5,
  series: [
    {slug: 'mix-female', fill: 'url(#stripeRed)', means: tgMixFemale, errs: tgSemMixFemale, dots: tgDotsMixFemale},
    {slug: 'mix-male', fill: 'url(#stripeBlue)', means: tgMixMale, errs: tgSemMixMale, dots: tgDotsMixMale},
    {slug: 'mono-female', fill: RED, means: tgMonoFemale, errs: tgSemMonoFemale, dots: tgDotsMonoFemale},
    {slug: 'mono-male', fill: BLUE, means: tgMonoMale, errs: tgSemMonoMale, dots: tgDotsMonoMale}
  ],
  letters: tgLetters,
  legendTexts: ['mix-female', 'mix-male', 'mono-female', 'mono-male'],
  legendFills: ['url(#stripeRedM)', 'url(#stripeBlueM)', RED, BLUE],
  legendX: 571, legendY: 3348, legendStep: 63.5, swatchW: 40, swatchH: 38, swatchStroke: 6, legendTextX: 639, legendFont: 55
});
</script>

<script>
/* Glycogen */
const glyCategories = ['1 d', '45 d', '75 d'];
const glyTicks = [0, 1, 2, 3, 4, 5];
const glyTickLabels = ['0', '1', '2', '3', '4', '5'];
const glyMixFemale = [1.15, 1.97, 2.13];
const glyMixMale = [0.98, 1.53, 2.18];
const glyMonoFemale = [1.15, 2.1, 2.42];
const glyMonoMale = [0.98, 1.4, 1.97];
const glySemMixFemale = [0.13, 0.17, 0.1];
const glySemMixMale = [0.1, 0.13, 0.2];
const glySemMonoFemale = [0.12, 0.2, 0.16];
const glySemMonoMale = [0.1, 0.18, 0.18];
const glyDotsMixFemale = [
  [2.2, 1.9, 1.7, 1.7, 1.65, 1.3, 1.25, 1.15, 1.1, 1.05, 0.9, 0.85, 0.8, 0.7, 0.45, 0.45],
  [2.75, 2.6, 2.5, 2.4, 2.2, 2.05, 2.0, 1.9, 1.85, 1.6, 1.5, 0.4],
  [3.1, 2.7, 2.45, 2.35, 2.3, 2.2, 2.1, 2.05, 1.95, 1.85, 1.8, 1.6, 1.45]
];
const glyDotsMixMale = [
  [1.65, 1.55, 1.45, 1.4, 1.35, 1.05, 1, 0.95, 0.9, 0.8, 0.7, 0.6, 0.6, 0.35],
  [2.3, 2.2, 1.55, 1.5, 1.45, 1.4, 1.35, 1.3, 1.1, 0.95],
  [4.0, 3.4, 2.7, 2.6, 2.4, 2.3, 2.1, 1.8, 1.7, 1.6, 1.5, 1.4, 1.3]
];
const glyDotsMonoFemale = [
  [2.2, 1.9, 1.9, 1.7, 1.7, 1.65, 1.3, 1.2, 1.1, 1.05, 1, 0.95, 0.9, 0.85, 0.8, 0.75, 0.7, 0.6, 0.5, 0.45, 0.45],
  [3.35, 3.2, 2.7, 2.4, 1.9, 1.85, 1.8, 1.6, 1.5, 1.3, 0.95],
  [3.1, 3.0, 2.95, 2.85, 2.75, 2.4, 2.3, 2.1, 1.9, 1.8, 1.7, 1.5]
];
const glyDotsMonoMale = [
  [1.65, 1.55, 1.5, 1.4, 1.05, 1, 0.95, 0.85, 0.75, 0.7, 0.6, 0.55, 0.35],
  [2.6, 1.85, 1.7, 1.55, 1.4, 1.35, 1.2, 0.95, 0.9, 0.05],
  [3.5, 2.8, 2.25, 2.0, 1.9, 1.85, 1.8, 1.75, 1.4, 1.3, 1.25]
];
const glyLetters = [
  [0, 0, 2.34, 'bc'], [0, 1, 1.79, 'c'],
  [1, 0, 2.89, 'a'], [1, 1, 2.36, 'b'], [1, 2, 3.6, 'a'], [1, 3, 2.74, 'bc'],
  [2, 0, 3.32, 'a'], [2, 1, 4.19, 'a'], [2, 2, 3.25, 'a'], [2, 3, 3.72, 'a']
];
drawBarChart({
  host: 'chartGlycogen', categories: glyCategories, yTicks: glyTicks, yLabels: glyTickLabels, vMax: 5,
  y0: 4716, yTop: 4114, axisX: 493, axisLeft: 464, axisRight: 1839, axisW: 5.5, xAxisW: 7,
  xFirst: 711, xStep: 452.5, barStep: 92.8, barW: 78, barShift: 1, barStroke: 4, tickLen: 28,
  tickFont: 57, labelRight: 458, catBaseline: 4795, catFont: 60,
  errW: 4, cap: 20, dotR: 5.5,
  series: [
    {slug: 'mix-female', fill: 'url(#stripeRed)', means: glyMixFemale, errs: glySemMixFemale, dots: glyDotsMixFemale},
    {slug: 'mix-male', fill: 'url(#stripeBlue)', means: glyMixMale, errs: glySemMixMale, dots: glyDotsMixMale},
    {slug: 'mono-female', fill: RED, means: glyMonoFemale, errs: glySemMonoFemale, dots: glyDotsMonoFemale},
    {slug: 'mono-male', fill: BLUE, means: glyMonoMale, errs: glySemMonoMale, dots: glyDotsMonoMale}
  ],
  letters: glyLetters,
  legendTexts: ['mix-female', 'mix-male', 'mono-female', 'mono-male'],
  legendFills: ['url(#stripeRedM)', 'url(#stripeBlueM)', RED, BLUE],
  legendX: 536, legendY: 4139, legendStep: 59, swatchW: 41, swatchH: 38, swatchStroke: 4, legendTextX: 606, legendFont: 55
});
</script>

<script>
/* GSI vs serum glucose */
const stageNames = ['II', 'III', 'IV+', 'IV++', 'IV+++', 'V', 'VI'];
const gluStageII = [[9.19, 0], [7.88, -0.02], [7.13, -0.02], [5.33, -0.03], [6.5, 0.02]];
const gluStageIII = [[3.52, 0], [6.04, 0], [5.58, 0]];
const gluStageIVa = [[8.29, 0.12], [5.2, 0.03], [5.45, 0.05], [5.86, 0.05], [6.23, 0.03], [7.82, 0.05], [5.67, 0.03]];
const gluStageIVb = [[6.23, 0.12], [6.79, 0.07], [7.54, 0.07], [7.92, 0.11], [6.7, 0.03]];
const gluStageIVc = [[5.24, 0.85], [5.67, 0.35], [4.6, 0.25], [6.6, 0.25], [10.5, 0.42]];
const gluStageV = [[9.64, 2.63], [11.0, 2.15], [13.57, 2.1], [7.78, 2.04], [14.7, 1.47], [8.66, 1.42], [8.94, 1.44], [9.23, 1.37], [12.33, 1.15], [15.14, 1.17], [9.92, 1.08], [10.1, 0.96], [10.5, 0.83], [11.64, 0.85], [8.63, 0.63], [13.3, 0.59]];
const gluStageVI = [[8.48, 1.48], [9.6, 1.49], [9.54, 1.23]];
const gluScatterXTicks = [0, 8, 16];
const gluScatterXLabels = ['0', '8', '16'];
const gluScatterYTicks = [0, 1, 2, 3];
const gluScatterYLabels = ['0', '1', '2', '3'];
drawScatter({
  host: 'scatterGlucose', series: [gluStageII, gluStageIII, gluStageIVa, gluStageIVb, gluStageIVc, gluStageV, gluStageVI],
  stages: stageNames, colors: STAGE_COLORS, xTicks: gluScatterXTicks, xLabels: gluScatterXLabels, yTicks: gluScatterYTicks, yLabels: gluScatterYLabels,
  x0: 2387, x1: 3112, xMax: 16, y0: 3082, yTop: 2586, yMax: 3, yLabelRight: 2336, xLabelY: 3156,
  legendX: 3165, legendY: 2598, legendStep: 65
});
</script>

<script>
/* GSI vs serum TG */
const tgStageII = [[2.8, 0.01], [1.08, -0.02], [1.29, -0.02], [1.66, -0.01]];
const tgStageIII = [[3.1, 0.06], [2.2, 0.04], [1.8, -0.01], [1.43, 0.02]];
const tgStageIVa = [[0.84, 0.05], [0.98, 0.07], [2.08, 0.14], [2.46, 0.06], [1.38, 0.05]];
const tgStageIVb = [[1.32, 0.15], [1.61, 0.11], [1.89, 0.09], [1.43, 0.05], [1.75, 0.08], [1.96, 0.09]];
const tgStageIVc = [[1.97, 0.87], [4.68, 0.44], [2.35, 0.37], [2.45, 0.26], [1.89, 0.27]];
const tgStageV = [[2.21, 2.64], [4.18, 2.17], [6.59, 2.11], [3.78, 2.06], [5.23, 1.48], [5.42, 1.44], [2.93, 1.44], [7.65, 1.39], [3.35, 1.16], [3.56, 1.18], [6.26, 1.1], [3.21, 0.98], [2.9, 0.87], [3.19, 0.82], [4.17, 0.65], [5.84, 0.61]];
const tgStageVI = [[2.4, 1.49], [3.09, 1.5], [1.55, 1.25]];
const tgScatterXTicks = [0, 4, 8];
const tgScatterXLabels = ['0', '4', '8'];
const tgScatterYTicks = [0, 1, 2, 3];
const tgScatterYLabels = ['0', '1', '2', '3'];
drawScatter({
  host: 'scatterTG', series: [tgStageII, tgStageIII, tgStageIVa, tgStageIVb, tgStageIVc, tgStageV, tgStageVI],
  stages: stageNames, colors: STAGE_COLORS, xTicks: tgScatterXTicks, xLabels: tgScatterXLabels, yTicks: tgScatterYTicks, yLabels: tgScatterYLabels,
  x0: 2392, x1: 3115, xMax: 8, y0: 3849, yTop: 3356, yMax: 3, yLabelRight: 2343, xLabelY: 3919,
  legendX: 3167, legendY: 3362, legendStep: 65
});
</script>

<script>
/* GSI vs glycogen */
const glyStageII = [[0.95, 0.01], [1.81, 0.01], [1.59, -0.01], [2.24, -0.01], [2.47, 0]];
const glyStageIII = [[0.4, 0.06], [3.19, 0.01], [3.31, 0.03], [1.92, -0.01], [2.4, 0.07], [2.08, 0.01]];
const glyStageIVa = [[1.47, 0.03], [1.62, 0.01], [3.09, 0.14], [2.35, 0.05], [2.64, 0.03], [1.99, 0.05], [2.22, 0.08]];
const glyStageIVb = [[1.3, 0.1], [1.59, 0.12], [1.9, 0.11], [2.16, 0.14], [2.07, 0.04], [2.74, 0.09]];
const glyStageIVc = [[1.96, 0.86], [2.05, 0.44], [1.9, 0.37], [1.95, 0.26], [2.48, 0.26]];
const glyStageV = [[1.97, 2.64], [2.19, 2.17], [2.43, 2.11], [2.48, 2.06], [2.69, 1.47], [2.31, 1.44], [2.29, 1.38], [2.93, 1.43], [2.82, 1.17], [3.06, 1.15], [1.44, 1.09], [1.86, 0.96], [1.94, 0.86], [2.97, 0.84], [2.39, 0.65], [1.48, 0.6]];
const glyStageVI = [[2.04, 1.48], [2.99, 1.51], [2.37, 1.24]];
const glyScatterXTicks = [0, 2, 4];
const glyScatterXLabels = ['0', '2', '4'];
const glyScatterYTicks = [0, 1, 2, 3];
const glyScatterYLabels = ['0', '1', '2', '3'];
drawScatter({
  host: 'scatterGlycogen', series: [glyStageII, glyStageIII, glyStageIVa, glyStageIVb, glyStageIVc, glyStageV, glyStageVI],
  stages: stageNames, colors: STAGE_COLORS, xTicks: glyScatterXTicks, xLabels: glyScatterXLabels, yTicks: glyScatterYTicks, yLabels: glyScatterYLabels,
  x0: 2392, x1: 3121, xMax: 4, y0: 4612, yTop: 4121, yMax: 3, yLabelRight: 2342, xLabelY: 4694,
  legendX: 3169, legendY: 4126, legendStep: 65.5
});
</script>
</body>
</html>
